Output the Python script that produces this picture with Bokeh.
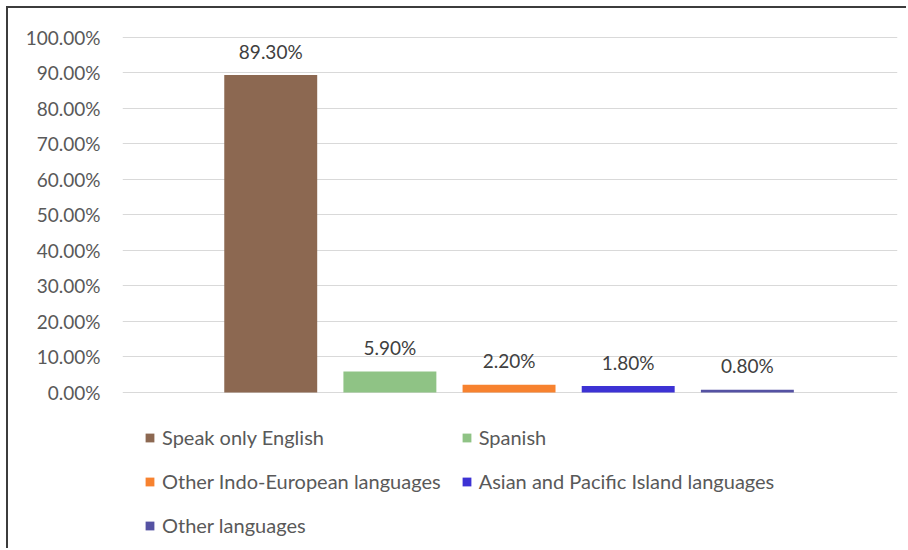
from bokeh.plotting import figure
from bokeh.models import (Range1d, FixedTicker, NumeralTickFormatter, Legend, LegendItem,
                          ColumnDataSource)
from bokeh.core.properties import value
from bokeh.embed import file_html
from bokeh.resources import INLINE

categories = ["Speak only English", "Spanish", "Other Indo-European languages",
              "Asian and Pacific Island languages", "Other languages"]
values = [0.893, 0.059, 0.022, 0.018, 0.008]
labels = ["89.30%", "5.90%", "2.20%", "1.80%", "0.80%"]
colors = ["#8C6851", "#8FC385", "#F7822F", "#3D32D4", "#5552A3"]
y_ticks = [0.0, 0.1, 0.2, 0.3, 0.4, 0.5, 0.6, 0.7, 0.8, 0.9, 1.0]

FONT = "Lato"
p = figure(width=900, height=542, output_backend="svg", toolbar_location=None,
           x_axis_location=None,
           x_range=Range1d(-1.244, 5.26), y_range=Range1d(-0.4444, 1.0015),
           min_border_left=114, min_border_right=11, min_border_top=28, min_border_bottom=0)
p.styles = {"border-left": "2px solid #3c3c3c", "border-top": "2px solid #3c3c3c",
            "margin-left": "6px", "margin-top": "6px"}
p.outline_line_color = None
p.background_fill_color = "white"
p.border_fill_color = "white"

renderers = []
for i, (c, v, col) in enumerate(zip(categories, values, colors)):
    src = ColumnDataSource(dict(x=[i], top=[v], lab=[labels[i]]))
    r = p.vbar(x="x", top="top", bottom=0, width=0.78, source=src, fill_color=col, line_color=None)
    renderers.append((c, r))
    p.text(x="x", y="top", text="lab", source=src, text_align="center", text_baseline="middle",
           y_offset=-24, text_font_size="19px", text_color="#404040", text_font=value(FONT))

p.xgrid.visible = False
p.yaxis.ticker = FixedTicker(ticks=y_ticks)
p.ygrid.ticker = FixedTicker(ticks=y_ticks)
p.yaxis.formatter = NumeralTickFormatter(format="0.00%")
p.yaxis.axis_line_color = None
p.yaxis.major_tick_line_color = None
p.yaxis.minor_tick_line_color = None
p.yaxis.major_label_standoff = 16
p.yaxis.major_label_text_font = FONT
p.yaxis.major_label_text_font_size = "19px"
p.yaxis.major_label_text_color = "#595959"
p.ygrid.grid_line_color = "#d9d9d9"
p.ygrid.grid_line_width = 1

legend = Legend(items=[LegendItem(label=c, renderers=[r]) for c, r in renderers],
                orientation="horizontal", nrows=3, location=(22, 13),
                label_text_font=FONT, label_text_font_size="20px", label_text_color="#595959",
                glyph_width=11, glyph_height=11, label_height=21, label_standoff=7,
                spacing=20, padding=0, margin=0, border_line_color=None,
                background_fill_alpha=0)
p.add_layout(legend, "center")

open("out.html", "w").write(file_html(p, INLINE))
